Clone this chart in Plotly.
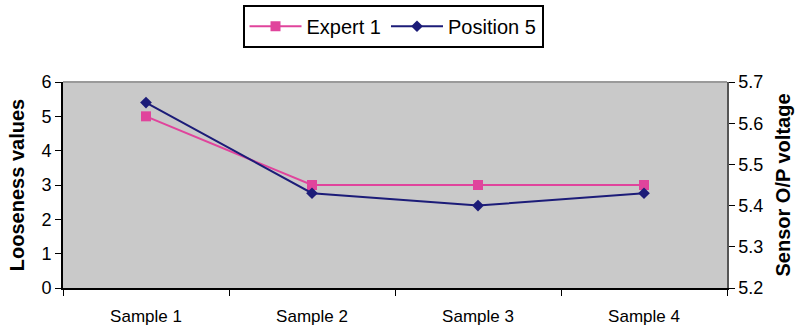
import plotly.graph_objects as go

samples = ["Sample 1", "Sample 2", "Sample 3", "Sample 4"]
expert_1 = [5, 3, 3, 3]                  # looseness values (left axis)
position_5 = [5.65, 5.43, 5.40, 5.43]    # sensor O/P voltage (right axis)

font_family = "Liberation Sans, Arial, sans-serif"

fig = go.Figure()
fig.add_trace(go.Scatter(
    x=samples, y=expert_1, name="Expert 1", mode="lines+markers",
    line=dict(color="#e0449c", width=2),
    marker=dict(symbol="square", size=10, color="#e0449c"),
    yaxis="y",
))
fig.add_trace(go.Scatter(
    x=samples, y=position_5, name="Position 5", mode="lines+markers",
    line=dict(color="#1c1c78", width=2),
    marker=dict(symbol="diamond", size=9, color="#1c1c78"),
    yaxis="y2",
))

fig.update_layout(
    width=801, height=332,
    margin=dict(l=63, r=74, t=82, b=44, autoexpand=False),
    paper_bgcolor="white",
    plot_bgcolor="#c9c9c9",
    font=dict(family=font_family, size=16, color="black"),
    showlegend=True,
    legend=dict(
        orientation="h", x=0.497, xanchor="center", y=1.375, yanchor="top",
        bordercolor="black", borderwidth=2, bgcolor="white",
        font=dict(size=20), itemwidth=52, tracegroupgap=0,
    ),
    xaxis=dict(
        type="category", tickson="boundaries", ticks="outside", ticklen=6,
        tickcolor="black", showline=True, linecolor="black", linewidth=2,
        mirror=False, showgrid=False, zeroline=False, automargin=False,
        range=[-0.5, 3.5], tickfont=dict(size=17), ticklabelstandoff=12,
    ),
    yaxis=dict(
        title=dict(text="<b>Looseness values</b>", font=dict(size=20), standoff=11),
        range=[0, 6], dtick=1, ticks="outside", ticklen=6, tickcolor="black",
        showline=True, linecolor="black", linewidth=2, automargin=False,
        showgrid=False, zeroline=False, tickfont=dict(size=18),
    ),
    yaxis2=dict(
        title=dict(text="<b>Sensor O/P voltage</b>", font=dict(size=20), standoff=14),
        overlaying="y", side="right", automargin=False,
        range=[5.2, 5.7], dtick=0.1, tickformat=".1f",
        ticks="outside", ticklen=6, tickcolor="black",
        showline=True, linecolor="#555555", linewidth=1.5,
        showgrid=False, zeroline=False, tickfont=dict(size=18),
    ),
    shapes=[dict(type="line", xref="paper", yref="paper", x0=0, x1=1, y0=1, y1=1,
                 line=dict(color="#9a9a9a", width=2))],
)

fig.write_html("out.html")
